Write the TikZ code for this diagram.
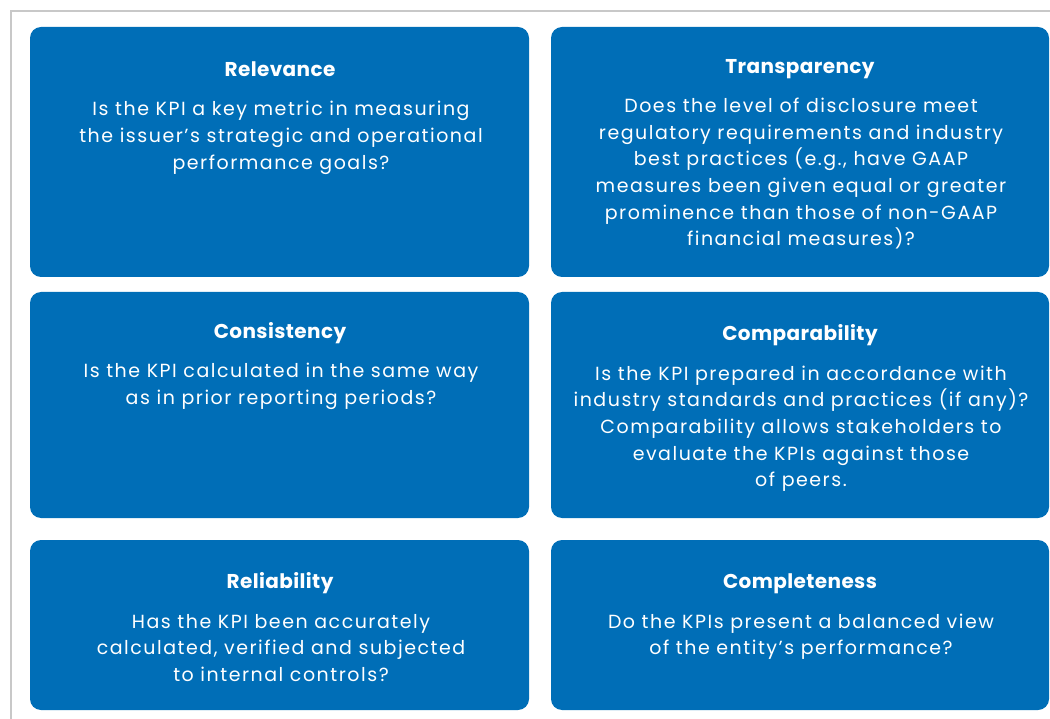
\documentclass[tikz,border=0pt]{standalone}
\usepackage{fontspec}
\setmainfont{Poppins}
\newfontfamily\bodyfont[LetterSpace=8]{Poppins}
\newfontfamily\titlefont[LetterSpace=2]{Poppins}
\definecolor{kpiblue}{RGB}{0,110,183}
\definecolor{framegray}{RGB}{200,200,200}
\tikzset{
  card/.style={fill=kpiblue, draw=none, rounded corners=11pt},
  ttl/.style={text=white, font=\titlefont\fontsize{20}{24}\selectfont\bfseries, inner sep=0pt, anchor=base},
  body/.style={text=white, font=\bodyfont\fontsize{19}{26.6}\selectfont, inner sep=0pt, align=center, anchor=north},
  frame/.style={draw=framegray, line width=2pt}
}
\begin{document}
\begin{tikzpicture}[x=1pt,y=-1pt]
\useasboundingbox (0,0) rectangle (1050,719);
\coordinate (ftl) at (11,11);
\coordinate (ftr) at (1050,11);
\coordinate (fbl) at (11,719);
\draw[frame] (ftr) -- (ftl) -- (fbl);
% cards
\fill[card] (30,27) rectangle (529,277);
\fill[card] (551,27) rectangle (1049,277);
\fill[card] (30,292) rectangle (529,518);
\fill[card] (551,292) rectangle (1049,518);
\fill[card] (30,540) rectangle (529,710);
\fill[card] (551,540) rectangle (1049,710);
% texts (body north = first baseline - 18.62)
\node[ttl] (t1) at (280,76.7) {Relevance};
\node[body] (b1) at (281,97.1) {\strut Is the KPI a key metric in measuring\\the issuer’s strategic and operational\\performance goals?};
\node[ttl] (t2) at (800,73.5) {Transparency};
\node[body] (b2) at (801,93.9) {\strut Does the level of disclosure meet\\regulatory requirements and industry\\best practices (e.g., have GAAP\\measures been given equal or greater\\prominence than those of non-GAAP\\financial measures)?};
\node[ttl] (t3) at (280,338.5) {Consistency};
\node[body] (b3) at (281,358.9) {\strut Is the KPI calculated in the same way\\as in prior reporting periods?};
\node[ttl] (t4) at (800,340.7) {Comparability};
\node[body] (b4) at (801,361.4) {\strut Is the KPI prepared in accordance with\\industry standards and practices (if any)?\\Comparability allows stakeholders to\\evaluate the KPIs against those\\of peers.};
\node[ttl] (t5) at (280,588.5) {Reliability};
\node[body] (b5) at (281,609.4) {\strut Has the KPI been accurately\\calculated, verified and subjected\\to internal controls?};
\node[ttl] (t6) at (800,588.5) {Completeness};
\node[body] (b6) at (801,609.4) {\strut Do the KPIs present a balanced view\\of the entity’s performance?};
\end{tikzpicture}
\end{document}
